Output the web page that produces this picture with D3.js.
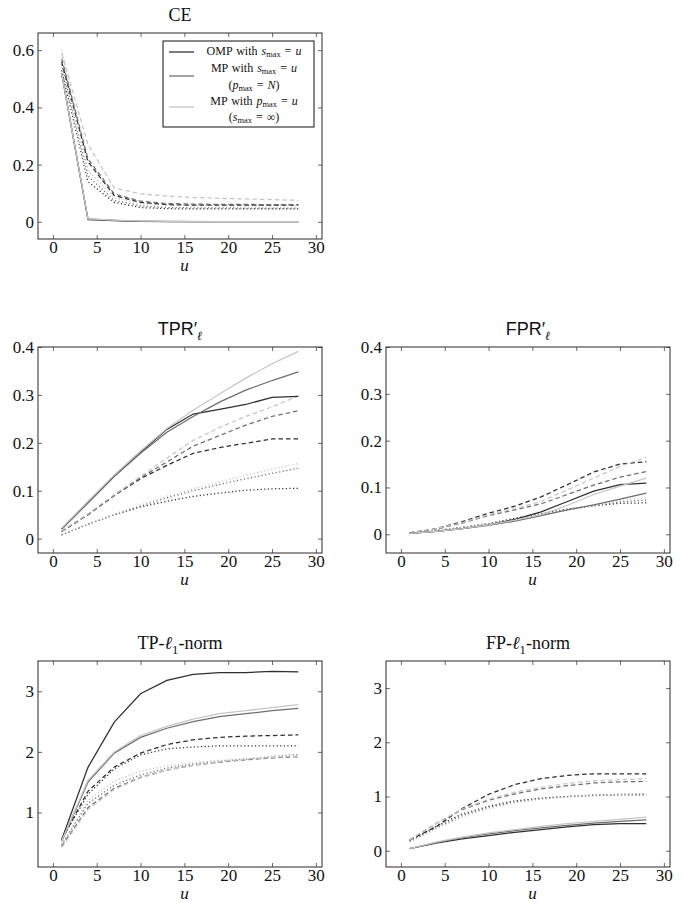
<!DOCTYPE html>
<html>
<head>
<meta charset="utf-8">
<script src="https://cdn.jsdelivr.net/npm/d3@7"></script>
<style>
body { margin: 0; background: #fff; }
svg { display: block; }
</style>
</head>
<body>
<div id="chart"></div>
<script>
// sparsity levels u on the x axis
const U = [1, 4, 7, 10, 13, 16, 19, 22, 25, 28];
const X_TICKS = [0, 5, 10, 15, 20, 25, 30];

// each panel: rows = OMP (s_max=u), MP (s_max=u), MP (p_max=u); each row = [solid, dashed, dotted]
const ce_omp = [
    [0.52, 0.008, 0.004, 0.002, 0.001, 0.001, 0.001, 0.001, 0.001, 0.001],
    [0.56, 0.21, 0.092, 0.068, 0.06, 0.058, 0.058, 0.058, 0.058, 0.058],
    [0.53, 0.14, 0.068, 0.05, 0.046, 0.045, 0.045, 0.045, 0.045, 0.045]
];
const ce_mps = [
    [0.52, 0.01, 0.005, 0.002, 0.002, 0.001, 0.001, 0.001, 0.001, 0.001],
    [0.57, 0.22, 0.098, 0.072, 0.064, 0.062, 0.061, 0.061, 0.06, 0.06],
    [0.55, 0.16, 0.075, 0.056, 0.05, 0.049, 0.049, 0.048, 0.048, 0.048]
];
const ce_mpp = [
    [0.52, 0.01, 0.006, 0.003, 0.002, 0.002, 0.001, 0.001, 0.001, 0.001],
    [0.59, 0.27, 0.118, 0.098, 0.09, 0.085, 0.082, 0.08, 0.078, 0.075],
    [0.6, 0.18, 0.085, 0.064, 0.06, 0.058, 0.058, 0.057, 0.057, 0.056]
];

const tpr_omp = [
    [0.02, 0.075, 0.13, 0.18, 0.228, 0.26, 0.27, 0.28, 0.295, 0.297],
    [0.015, 0.05, 0.09, 0.125, 0.153, 0.178, 0.19, 0.199, 0.208, 0.208],
    [0.008, 0.03, 0.05, 0.066, 0.078, 0.088, 0.095, 0.101, 0.104, 0.105]
];
const tpr_mps = [
    [0.02, 0.075, 0.13, 0.178, 0.222, 0.255, 0.285, 0.31, 0.33, 0.348],
    [0.015, 0.05, 0.09, 0.127, 0.16, 0.193, 0.215, 0.237, 0.255, 0.267],
    [0.008, 0.03, 0.05, 0.068, 0.085, 0.1, 0.113, 0.125, 0.136, 0.147]
];
const tpr_mpp = [
    [0.022, 0.078, 0.133, 0.183, 0.23, 0.268, 0.302, 0.335, 0.365, 0.391],
    [0.016, 0.052, 0.092, 0.13, 0.168, 0.205, 0.232, 0.255, 0.275, 0.298],
    [0.009, 0.031, 0.051, 0.07, 0.088, 0.104, 0.118, 0.132, 0.145, 0.157]
];

const fpr_omp = [
    [0.002, 0.006, 0.012, 0.02, 0.032, 0.048, 0.07, 0.092, 0.106, 0.109],
    [0.003, 0.012, 0.027, 0.045, 0.06, 0.08, 0.106, 0.133, 0.15, 0.155],
    [0.003, 0.008, 0.015, 0.023, 0.034, 0.044, 0.054, 0.061, 0.066, 0.067]
];
const fpr_mps = [
    [0.002, 0.006, 0.012, 0.019, 0.028, 0.04, 0.052, 0.063, 0.075, 0.088],
    [0.003, 0.011, 0.024, 0.04, 0.052, 0.065, 0.085, 0.105, 0.122, 0.134],
    [0.003, 0.008, 0.014, 0.022, 0.031, 0.042, 0.052, 0.061, 0.069, 0.073]
];
const fpr_mpp = [
    [0.002, 0.006, 0.012, 0.02, 0.03, 0.042, 0.062, 0.085, 0.103, 0.12],
    [0.003, 0.012, 0.025, 0.042, 0.055, 0.07, 0.095, 0.12, 0.145, 0.165],
    [0.003, 0.008, 0.014, 0.022, 0.031, 0.042, 0.052, 0.062, 0.072, 0.078]
];

const tp_omp = [
    [0.55, 1.745, 2.49, 2.96, 3.18, 3.28, 3.31, 3.31, 3.33, 3.32],
    [0.55, 1.35, 1.75, 1.98, 2.12, 2.2, 2.24, 2.26, 2.27, 2.28],
    [0.55, 1.3, 1.72, 1.95, 2.05, 2.08, 2.1, 2.1, 2.1, 2.1]
];
const tp_mps = [
    [0.52, 1.5, 1.98, 2.24, 2.39, 2.5, 2.58, 2.63, 2.68, 2.72],
    [0.44, 1.08, 1.4, 1.58, 1.7, 1.78, 1.83, 1.87, 1.9, 1.92],
    [0.47, 1.15, 1.45, 1.62, 1.73, 1.8, 1.85, 1.88, 1.92, 1.96]
];
const tp_mpp = [
    [0.53, 1.53, 2.0, 2.27, 2.42, 2.54, 2.63, 2.68, 2.73, 2.78],
    [0.42, 1.05, 1.38, 1.57, 1.7, 1.78, 1.84, 1.88, 1.91, 1.93],
    [0.45, 1.2, 1.52, 1.68, 1.77, 1.82, 1.86, 1.89, 1.92, 1.95]
];

const fp_omp = [
    [0.04, 0.14, 0.22, 0.28, 0.34, 0.39, 0.44, 0.48, 0.5, 0.5],
    [0.2, 0.44, 0.78, 1.04, 1.22, 1.33, 1.39, 1.42, 1.42, 1.42],
    [0.18, 0.45, 0.68, 0.82, 0.92, 0.97, 1.0, 1.02, 1.03, 1.03]
];
const fp_mps = [
    [0.04, 0.15, 0.24, 0.31, 0.37, 0.42, 0.47, 0.51, 0.54, 0.57],
    [0.2, 0.5, 0.76, 0.93, 1.05, 1.14, 1.2, 1.25, 1.27, 1.28],
    [0.17, 0.42, 0.65, 0.8, 0.9, 0.96, 1.0, 1.03, 1.04, 1.05]
];
const fp_mpp = [
    [0.04, 0.16, 0.25, 0.33, 0.39, 0.45, 0.5, 0.54, 0.58, 0.62],
    [0.2, 0.5, 0.77, 0.95, 1.08, 1.17, 1.24, 1.29, 1.31, 1.33],
    [0.16, 0.4, 0.62, 0.78, 0.88, 0.95, 0.99, 1.02, 1.04, 1.06]
];

const METHOD_COLORS = ["#2f2f2f", "#6e6e6e", "#c6c6c6"];
const DASHES = [null, "4.5,3", "1.2,2.4"];

const W = 683, H = 902;
const COLS = [38, 386], ROWS = [33, 347, 661];
const PW = 284, PH = 206;
const SERIF = "'Liberation Serif'";
const SANS = "'Liberation Sans'";
const FS = 17;

const panels = [
    { col: 0, row: 0, y: [-0.06, 0.66], ticks: [0, 0.2, 0.4, 0.6], data: [ce_omp, ce_mps, ce_mpp],
      title: [["CE", "r"]], legend: true },
    { col: 0, row: 1, y: [-0.03, 0.4], ticks: [0, 0.1, 0.2, 0.3, 0.4], data: [tpr_omp, tpr_mps, tpr_mpp],
      title: [["TPR", "s"], ["′", "s"], ["ℓ", "subl"]] },
    { col: 1, row: 1, y: [-0.04, 0.4], ticks: [0, 0.1, 0.2, 0.3, 0.4], data: [fpr_omp, fpr_mps, fpr_mpp],
      title: [["FPR", "s"], ["′", "s"], ["ℓ", "subl"]] },
    { col: 0, row: 2, y: [0.1, 3.5], ticks: [1, 2, 3], data: [tp_omp, tp_mps, tp_mpp],
      title: [["TP-", "r"], ["ℓ", "i"], ["1", "sub"], ["-norm", "r"]] },
    { col: 1, row: 2, y: [-0.3, 3.5], ticks: [0, 1, 2, 3], data: [fp_omp, fp_mps, fp_mpp],
      title: [["FP-", "r"], ["ℓ", "i"], ["1", "sub"], ["-norm", "r"]] }
];

let svg = d3.select("#chart")
    .append("svg")
    .attr("width", W)
    .attr("height", H);

// writes a small piece of "math" text as tspans
let mathText = (sel, parts, size, drop = 0.3) => {
    let shift = 0;
    parts.forEach(([t, s]) => {
        let sub = s === "sub" || s === "subl";
        let target = sub ? Math.round(size * drop) : 0;
        let ts = sel.append("tspan")
            .attr("dy", target - shift)
            .style("font-family", SERIF)
            .text(t);
        shift = target;
        if (sub) ts.style("font-size", `${size * 0.7}px`);
        if (s === "i" || s === "subl") ts.style("font-style", "italic");
        if (s === "s") ts.style("font-family", SANS);
    });
};

let x = d3.scaleLinear()
    .domain([-1.7, 30.7])
    .range([0, PW]);

panels.forEach(p => {
    let g = svg.append("g")
        .attr("transform", `translate(${COLS[p.col]}, ${ROWS[p.row]})`);

    let y = d3.scaleLinear()
        .domain(p.y)
        .range([PH, 0]);

    g.append("g")
        .attr("transform", `translate(0, ${PH})`)
        .call(d3.axisBottom(x).tickValues(X_TICKS).tickSizeInner(-4).tickSizeOuter(0).tickPadding(2));
    g.append("g")
        .call(d3.axisTop(x).tickValues(X_TICKS).tickSizeInner(-4).tickSizeOuter(0).tickFormat(""));
    g.append("g")
        .call(d3.axisLeft(y).tickValues(p.ticks).tickSizeInner(-4).tickSizeOuter(0).tickPadding(4)
            .tickFormat(d => String(d)));
    g.append("g")
        .attr("transform", `translate(${PW}, 0)`)
        .call(d3.axisRight(y).tickValues(p.ticks).tickSizeInner(-4).tickSizeOuter(0).tickFormat(""));

    g.selectAll(".domain").remove();
    g.selectAll(".tick line").attr("stroke", "#444").attr("stroke-width", 0.8);
    g.selectAll(".tick text")
        .attr("fill", "#111")
        .style("font-family", SERIF)
        .style("font-size", `${FS}px`);

    let line = d3.line()
        .x((d, i) => x(U[i]))
        .y(d => y(d));

    // dotted and dashed first, solid on top
    [2, 1, 0].forEach(k => {
        p.data.forEach((method, m) => {
            g.append("path")
                .datum(method[k])
                .attr("fill", "none")
                .attr("stroke", METHOD_COLORS[m])
                .attr("stroke-width", 1.25)
                .attr("stroke-dasharray", DASHES[k])
                .attr("d", line);
        });
    });

    g.append("rect")
        .attr("width", PW)
        .attr("height", PH)
        .attr("fill", "none")
        .attr("stroke", "#2a2a2a")
        .attr("stroke-width", 1);

    let title = g.append("text")
        .attr("x", PW / 2)
        .attr("y", -12)
        .attr("text-anchor", "middle")
        .attr("fill", "#111")
        .style("font-family", SERIF)
        .style("font-size", `${FS + 1}px`);
    mathText(title, p.title, FS + 1);

    g.append("text")
        .attr("x", x(15))
        .attr("y", PH + 32)
        .attr("text-anchor", "middle")
        .attr("fill", "#111")
        .style("font-family", SERIF)
        .style("font-style", "italic")
        .style("font-size", `${FS}px`)
        .text("u");

    if (p.legend) {
        let lg = g.append("g")
            .attr("transform", "translate(125, 8)");
        lg.append("rect")
            .attr("width", 151)
            .attr("height", 86)
            .attr("fill", "#fff")
            .attr("stroke", "#111")
            .attr("stroke-width", 1);
        [11, 35, 66].forEach((ly, m) => {
            lg.append("line")
                .attr("x1", 6).attr("x2", 31)
                .attr("y1", ly).attr("y2", ly)
                .attr("stroke", METHOD_COLORS[m])
                .attr("stroke-width", 1.25);
        });
        let rows = [
            [10, [["OMP with ", "r"], ["s", "i"], ["max", "sub"], [" = ", "r"], ["u", "i"]]],
            [27, [["MP with ", "r"], ["s", "i"], ["max", "sub"], [" = ", "r"], ["u", "i"]]],
            [44, [["(", "r"], ["p", "i"], ["max", "sub"], [" = ", "r"], ["N", "i"], [")", "r"]]],
            [60, [["MP with ", "r"], ["p", "i"], ["max", "sub"], [" = ", "r"], ["u", "i"]]],
            [76, [["(", "r"], ["s", "i"], ["max", "sub"], [" = ∞)", "r"]]]
        ];
        rows.forEach(([ry, parts]) => {
            let t = lg.append("text")
                .attr("x", 91)
                .attr("y", ry + 4)
                .attr("text-anchor", "middle")
                .attr("fill", "#111")
                .style("font-family", SERIF)
                .style("font-size", "12px")
                .style("word-spacing", "1px");
            mathText(t, parts, 12, 0.2);
        });
    }
});
</script>
</body>
</html>
